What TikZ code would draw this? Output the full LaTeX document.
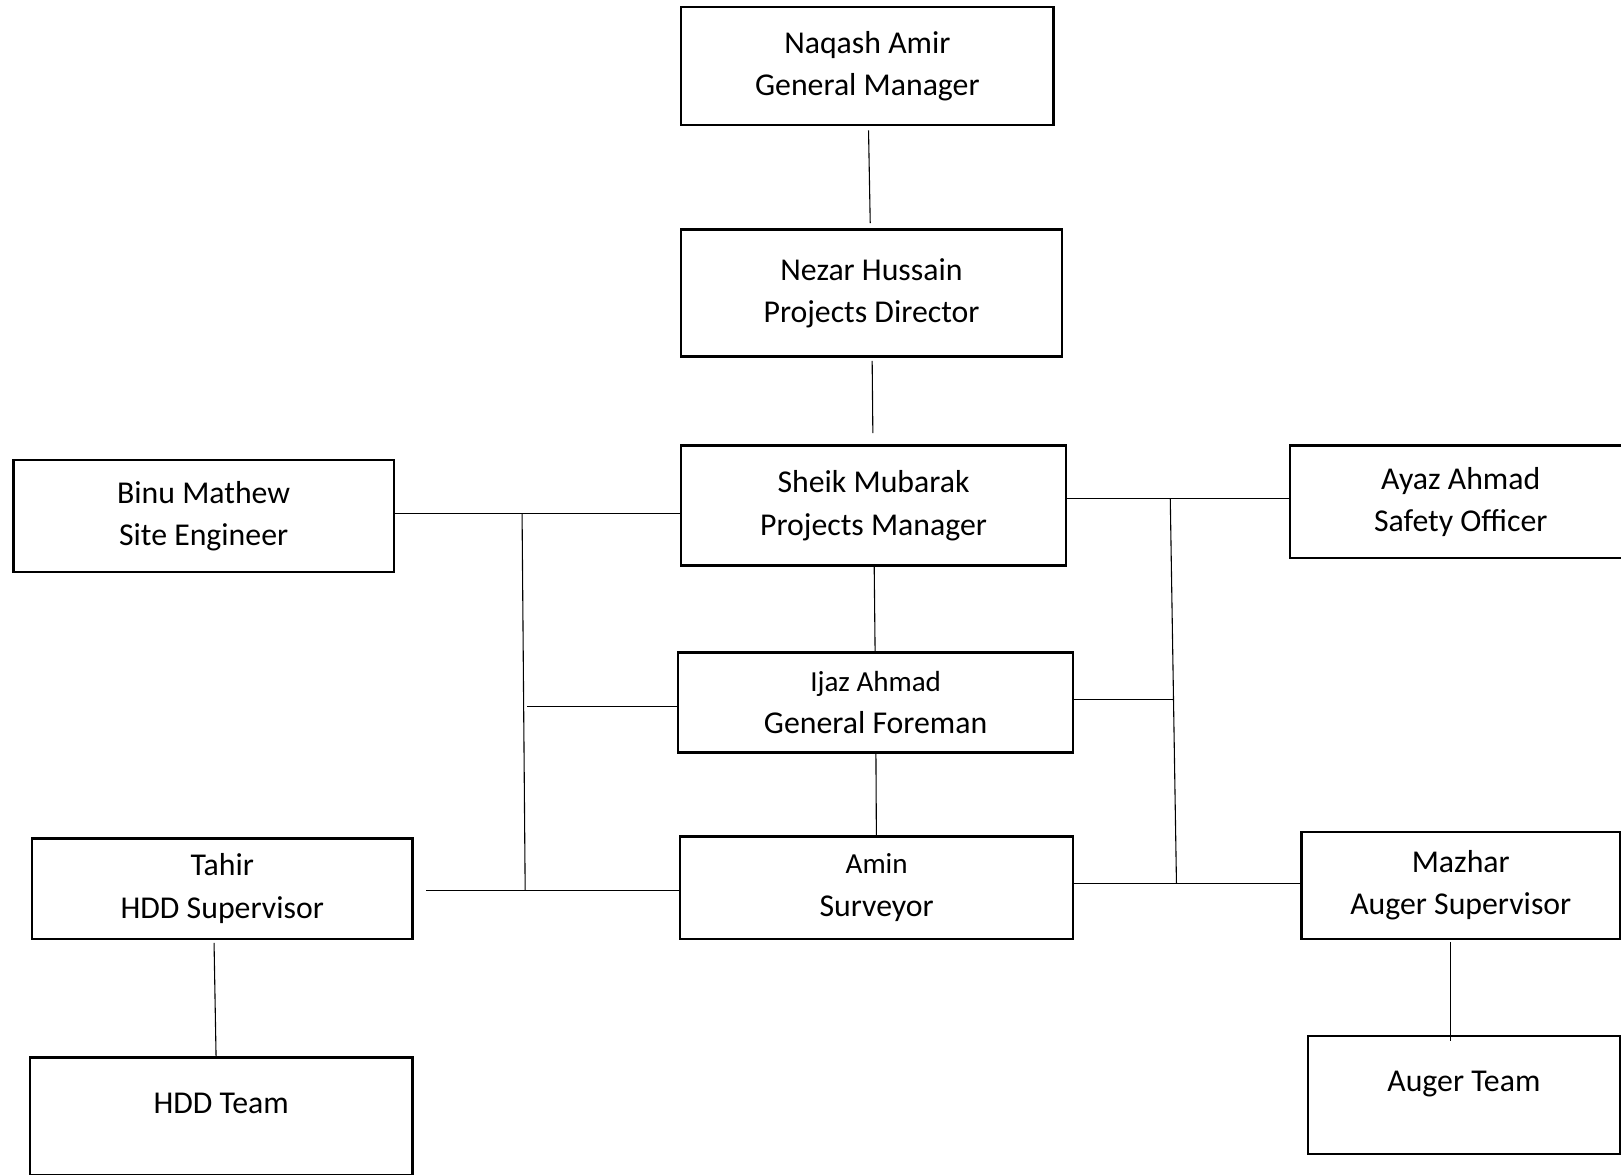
\documentclass[tikz,border=0pt]{standalone}
\usepackage{fontspec}
\setmainfont{Carlito}
\begin{document}
\begin{tikzpicture}[x=0.2mm, y=-0.2mm,
    box/.style={draw, line width=1.3pt, inner sep=0pt, align=center,
      font=\fontsize{17.5pt}{23.3pt}\selectfont},
    team/.style={box, text depth=15pt},
    link/.style={line width=0.6pt}]
  \clip (0,0) rectangle (1568,1136);
  \path
    (839,64) node[box, minimum width=72mm, minimum height=22.8mm] (gm) {Naqash Amir\\General Manager}
    (843,283.5) node[box, minimum width=73.6mm, minimum height=24.6mm] (pd) {Nezar Hussain\\Projects Director}
    (845,489) node[box, minimum width=74.4mm, minimum height=23.2mm] (pm) {Sheik Mubarak\\Projects Manager}
    (197,499) node[box, minimum width=73.6mm, minimum height=21.6mm] (se) {Binu Mathew\\Site Engineer}
    (1413,485.5) node[box, minimum width=66mm, minimum height=21.8mm] (so) {Ayaz Ahmad\\Safety Officer}
    (847,679.5) node[box, minimum width=76.4mm, minimum height=19.4mm] (gf) {{\fontsize{16pt}{23.3pt}\selectfont Ijaz Ahmad}\\General Foreman}
    (848,858.5) node[box, minimum width=76mm, minimum height=19.8mm] (sv) {{\fontsize{16pt}{23.3pt}\selectfont Amin}\\Surveyor}
    (215,859.5) node[box, minimum width=73.6mm, minimum height=19.4mm] (th) {Tahir\\HDD Supervisor}
    (1413,856.5) node[box, minimum width=61.6mm, minimum height=20.6mm] (mz) {Mazhar\\Auger Supervisor}
    (214,1080) node[team, minimum width=74mm, minimum height=22.8mm] (ht) {HDD Team}
    (1416,1059) node[team, minimum width=60.4mm, minimum height=22.8mm] (at) {Auger Team};
  \coordinate (lt) at (505,497);
  \coordinate (lm) at (510,683);
  \coordinate (lb) at (508,861);
  \coordinate (rt) at (1132,482);
  \coordinate (rm) at (1135,677);
  \coordinate (rb) at (1138,855);
  \begin{scope}[link]
    \draw[shorten <=0.8mm, shorten >=1mm] (gm) to (pd);
    \draw[shorten <=0.6mm, shorten >=2.2mm] (pd) to (pm);
    \draw (pm) to (gf);
    \draw (gf) to (sv);
    \draw[shorten <=0.6mm] (th.south -| 207,0) to (ht.north -| 209,0);
    \draw[shorten <=0.4mm, shorten >=-1.2mm] (mz.south -| 1403,0) to (at.north -| 1403,0);
    \draw (se.east |- lt) to (pm.west |- lt);
    \draw (lt) to (lb);
    \draw (lm) to (gf.west |- lm);
    \draw[shorten <=2.4mm] (th.east |- lb) to (sv.west |- lb);
    \draw (pm.east |- rt) to (so.west |- rt);
    \draw (rt) to (rb);
    \draw (gf.east |- rm) to (rm);
    \draw (sv.east |- rb) to (mz.west |- rb);
  \end{scope}
\end{tikzpicture}
\end{document}
